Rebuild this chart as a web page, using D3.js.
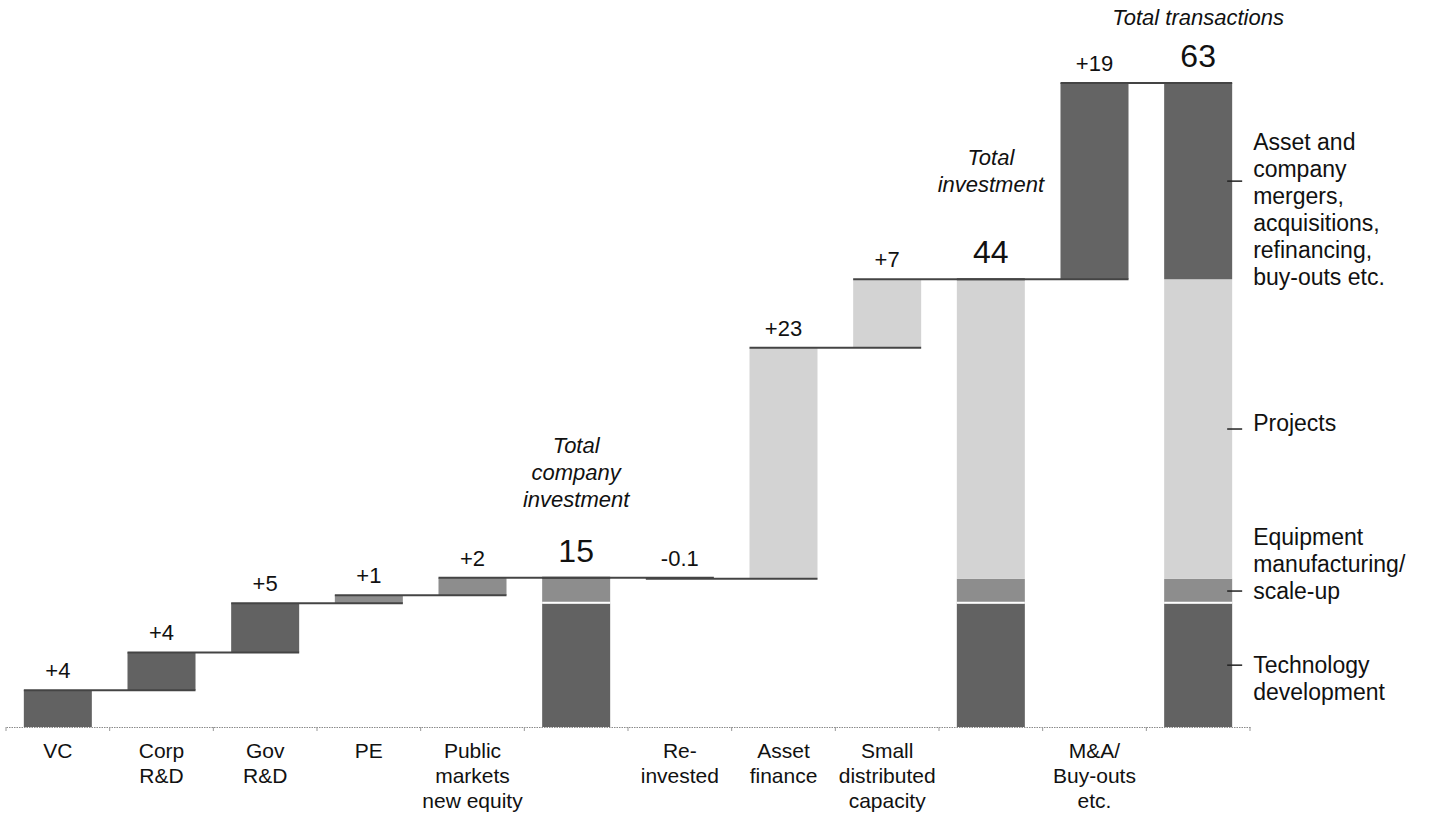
<!DOCTYPE html>
<html>
<head>
<meta charset="utf-8">
<script src="https://cdn.jsdelivr.net/npm/d3@7"></script>
<style>
  html, body { margin: 0; padding: 0; background: #fff; }
  svg { display: block; font-family: "Liberation Sans", Arial, Helvetica, sans-serif; }
</style>
</head>
<body>
<svg id="chart" width="1431" height="825"></svg>
<script>
// Clean-energy investment flows, $bn: steps build up to three totals
const categoryIds = ["vc", "corp", "gov", "pe", "public", "totalCompany",
  "reinvested", "asset", "small", "totalInvestment", "mna", "totalTransactions"];
const categoryLabels = ["VC", "Corp\nR&D", "Gov\nR&D", "PE", "Public\nmarkets\nnew equity", "",
  "Re-\ninvested", "Asset\nfinance", "Small\ndistributed\ncapacity", "", "M&A/\nBuy-outs\netc.", ""];
// null marks a total bar
const stepValues = [3.6, 3.7, 4.8, 0.8, 1.7, null, -0.1, 22.6, 6.7, null, 19.2, null];
const stepSegment = ["tech", "tech", "tech", "equip", "equip", null, "equip", "projects", "projects", null, "mna", null];
const totalTitles = ["", "", "", "", "", "Total\ncompany\ninvestment", "", "", "", "Total\ninvestment", "", "Total transactions"];

const segmentKeys = ["tech", "equip", "projects", "mna"];
const segmentLabels = ["Technology\ndevelopment", "Equipment\nmanufacturing/\nscale-up", "Projects",
  "Asset and\ncompany\nmergers,\nacquisitions,\nrefinancing,\nbuy-outs etc."];

const segmentColor = { tech: "#626262", equip: "#8d8d8d", projects: "#d3d3d3", mna: "#646464" };

// running totals
let cum = 0;
const rows = categoryIds.map((id, i) => {
  const v = stepValues[i];
  if (v == null) {
    const row = { id, isTotal: true, total: cum };
    segmentKeys.forEach(k => { row[k] = 0; });
    for (let j = 0; j < i; j++) if (stepValues[j] != null) row[stepSegment[j]] += stepValues[j];
    return row;
  }
  const start = cum;
  cum += v;
  return { id, isTotal: false, start, end: cum, value: v, seg: stepSegment[i] };
});
const level = r => r.isTotal ? r.total : r.end;

const svg = d3.select("#chart");
const baseY = 727;
const x = d3.scaleBand().domain(categoryIds).range([6, 1250]).paddingInner(0.344).paddingOuter(0.172);
const y = d3.scaleLinear().domain([0, d3.max(rows, level)]).range([baseY, 83]);
const bw = x.bandwidth();
const cx = id => x(id) + bw / 2;

// axis
const axisG = svg.append("g").attr("transform", `translate(0,${baseY})`)
  .call(d3.axisBottom(x).tickSize(0).tickSizeOuter(0).tickFormat(() => ""));
axisG.select(".domain").attr("stroke", "#8a8a8a").attr("stroke-width", 1).attr("stroke-dasharray", "1.5,1");
axisG.selectAll(".tick line").remove();
svg.append("g").selectAll("line")
  .data(d3.range(categoryIds.length + 1))
  .join("line")
  .attr("x1", k => x.range()[0] + k * x.step())
  .attr("x2", k => x.range()[0] + k * x.step())
  .attr("y1", baseY).attr("y2", baseY + 4)
  .attr("stroke", "#999").attr("stroke-width", 1);

// floating step bars
svg.append("g").selectAll("rect")
  .data(rows.filter(r => !r.isTotal))
  .join("rect")
  .attr("x", d => x(d.id))
  .attr("width", bw)
  .attr("y", d => y(Math.max(d.start, d.end)))
  .attr("height", d => Math.max(1, Math.abs(y(d.start) - y(d.end))))
  .attr("fill", d => segmentColor[d.seg]);

// stacked total bars
const totals = rows.filter(r => r.isTotal);
const stacked = d3.stack().keys(segmentKeys)(totals);
svg.append("g").selectAll("g")
  .data(stacked)
  .join("g")
  .attr("fill", s => segmentColor[s.key])
  .selectAll("rect")
  .data(s => s.filter(d => d[1] > d[0]))
  .join("rect")
  .attr("x", d => x(d.data.id))
  .attr("width", bw)
  .attr("y", d => y(d[1]))
  .attr("height", d => y(d[0]) - y(d[1]));

// white divider above technology segment
svg.append("g").selectAll("line")
  .data(totals)
  .join("line")
  .attr("x1", d => x(d.id)).attr("x2", d => x(d.id) + bw)
  .attr("y1", d => y(d.tech) - 0.5).attr("y2", d => y(d.tech) - 0.5)
  .attr("stroke", "#fff").attr("stroke-width", 2);

// connectors: each level runs from a bar's left edge to the next bar's right edge
svg.append("g").selectAll("line")
  .data(rows.slice(0, -1))
  .join("line")
  .attr("x1", d => x(d.id))
  .attr("x2", (d, i) => x(rows[i + 1].id) + bw)
  .attr("y1", d => y(level(d))).attr("y2", d => y(level(d)))
  .attr("stroke", "#444").attr("stroke-width", 2);

// value labels
const fmtLocale = d3.formatLocale({ decimal: ".", thousands: ",", grouping: [3], currency: ["", ""], minus: "-" });
const fmtStep = v => Math.abs(v) < 0.5 ? fmtLocale.format("+.1f")(v) : fmtLocale.format("+.0f")(v);
const fmtTotal = fmtLocale.format(".0f");

svg.append("g").selectAll("text")
  .data(rows.filter(r => !r.isTotal))
  .join("text")
  .attr("x", d => cx(d.id))
  .attr("y", d => y(Math.max(d.start, d.end)) - 12)
  .attr("text-anchor", "middle")
  .attr("font-size", 22)
  .attr("fill", "#111")
  .text(d => fmtStep(d.value));

svg.append("g").selectAll("text")
  .data(totals)
  .join("text")
  .attr("x", d => cx(d.id))
  .attr("y", d => y(d.total) - 16)
  .attr("text-anchor", "middle")
  .attr("font-size", 32)
  .attr("fill", "#111")
  .text(d => fmtTotal(d.total));

// italic titles above totals (gap from bar top to last title line)
const titleGap = { totalCompany: 71, totalInvestment: 87, totalTransactions: 58 };
totals.forEach(d => {
  const lines = totalTitles[categoryIds.indexOf(d.id)].split("\n");
  const lastY = y(d.total) - titleGap[d.id];
  const t = svg.append("text")
    .attr("text-anchor", "middle")
    .attr("font-size", 22)
    .attr("font-style", "italic")
    .attr("fill", "#111");
  lines.forEach((ln, k) => {
    t.append("tspan").attr("x", cx(d.id)).attr("y", lastY - (lines.length - 1 - k) * 27).text(ln);
  });
});

// category labels
categoryIds.forEach((id, i) => {
  const lines = categoryLabels[i].split("\n").filter(s => s);
  if (!lines.length) return;
  const t = svg.append("text")
    .attr("text-anchor", "middle")
    .attr("font-size", 21)
    .attr("fill", "#111");
  lines.forEach((ln, k) => {
    t.append("tspan").attr("x", cx(id)).attr("y", 758 + k * 25).text(ln);
  });
});

// segment key beside the last total bar
const lastTotal = totals[totals.length - 1];
const lastRight = x(lastTotal.id) + bw;
const lastStack = stacked.map(s => s[totals.length - 1]);
const firstLineOffset = { tech: 8, equip: -46, projects: 2, mna: -31 };
segmentKeys.forEach((k, i) => {
  const seg = lastStack[i];
  const midY = (y(seg[0]) + y(seg[1])) / 2;
  svg.append("line")
    .attr("x1", lastRight - 5).attr("x2", lastRight + 10)
    .attr("y1", midY).attr("y2", midY)
    .attr("stroke", "#222").attr("stroke-width", 1.5);
  const lines = segmentLabels[i].split("\n");
  const t = svg.append("text")
    .attr("font-size", 23)
    .attr("fill", "#111");
  lines.forEach((ln, j) => {
    t.append("tspan").attr("x", lastRight + 21).attr("y", midY + firstLineOffset[k] + j * 27).text(ln);
  });
});
</script>
</body>
</html>
